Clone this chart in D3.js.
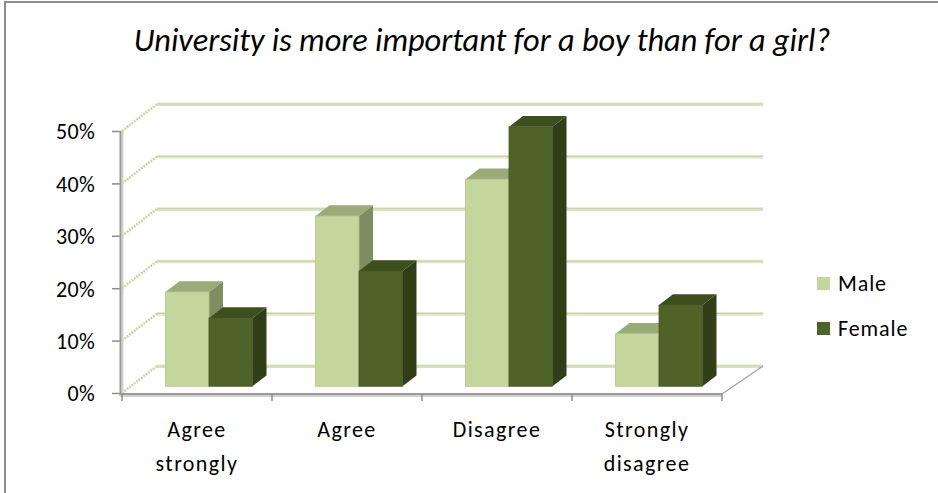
<!DOCTYPE html>
<html>
<head>
<meta charset="utf-8">
<script src="https://cdn.jsdelivr.net/npm/d3@7"></script>
<style>
  html, body { margin: 0; padding: 0; background: #ffffff; }
  svg { display: block; }
  text { font-family: Carlito, Calibri, Lato, sans-serif; fill: #000; }
</style>
</head>
<body>
<svg id="chart" width="938" height="493"></svg>
<script>
// Survey answers, share of respondents by gender
const categories = ["Agree strongly", "Agree", "Disagree", "Strongly disagree"];
const categoryLines = [["Agree", "strongly"], ["Agree"], ["Disagree"], ["Strongly", "disagree"]];
const seriesNames = ["Male", "Female"];
const maleValues = [0.18, 0.325, 0.395, 0.10];
const femaleValues = [0.13, 0.22, 0.495, 0.155];
const yTicks = [0, 0.1, 0.2, 0.3, 0.4, 0.5];
const chartTitle = "University is more important for a boy than for a girl?";

const seriesValues = { Male: maleValues, Female: femaleValues };
const colors = {
  Male:   { front: "#c3d69b", top: "#9aaa79", side: "#7f8e62", edge: "#b2c58b" },
  Female: { front: "#4f6228", top: "#3e4e1f", side: "#313e17", edge: "#465823" }
};

const svg = d3.select("#chart");

// chart frame
svg.append("path")
  .attr("d", "M5,493 L5,2 L938,2")
  .attr("fill", "none").attr("stroke", "#8c8c8c").attr("stroke-width", 2);

// title
svg.append("text")
  .attr("x", 482).attr("y", 51)
  .attr("text-anchor", "middle")
  .attr("font-style", "italic")
  .attr("font-size", 26)
  .text(chartTitle)
  .each(function () {
    const w = this.getComputedTextLength();
    d3.select(this).attr("font-size", 26 * 697 / w);
  });

// plot geometry: front plane scales plus a receding depth offset
const x = d3.scaleBand().domain(categories).range([122, 722]);
const y = d3.scaleLinear().domain([0, 0.5]).range([393, 131]);
const depthDx = xf => 35 + 6 * (xf - 122) / 600;
const depthDy = -27;
const proj = (xf, v, d) => [xf + d * depthDx(xf), y(v) + d * depthDy];

const g = svg.append("g");

// back wall gridlines
yTicks.forEach(t => {
  const a = proj(122, t, 1), b = proj(722, t, 1);
  g.append("line").attr("x1", a[0]).attr("y1", a[1] + 1.5).attr("x2", b[0]).attr("y2", b[1] + 1.5)
    .attr("stroke", "#d4d4d4").attr("stroke-width", 1);
  g.append("line").attr("x1", a[0]).attr("y1", a[1]).attr("x2", b[0]).attr("y2", b[1])
    .attr("stroke", "#dfeacb").attr("stroke-width", 3);
  g.append("line").attr("x1", a[0]).attr("y1", a[1]).attr("x2", b[0]).attr("y2", b[1])
    .attr("stroke", "#c2d49c").attr("stroke-width", 1);
});

// side wall gridlines
yTicks.forEach(t => {
  const a = proj(122, t, 0), b = proj(122, t, 1);
  g.append("line").attr("x1", a[0]).attr("y1", a[1]).attr("x2", b[0]).attr("y2", b[1])
    .attr("stroke", "#c8d9a4").attr("stroke-width", 2.5).attr("stroke-dasharray", "2,1");
});

// floor right edge
{
  const a = proj(722, 0, 0), b = proj(722, 0, 1);
  g.append("line").attr("x1", a[0]).attr("y1", a[1] + 1).attr("x2", b[0]).attr("y2", b[1])
    .attr("stroke", "#a6a6a6").attr("stroke-width", 1.5);
}

// bars: front face at a shallow depth, with top and side faces
const barFrontDepth = 0.25;
const barDepth = 0.4;
const groupWidth = 87;
const inner = d3.scaleBand().domain(seriesNames).range([0, groupWidth]);
const barShiftX = 12;

categories.forEach((c, i) => {
  const left = x(c) + x.bandwidth() / 2 - groupWidth / 2 + barShiftX;
  seriesNames.forEach(s => {
    const v = seriesValues[s][i];
    const x0 = left + inner(s), x1 = x0 + inner.bandwidth();
    const yb = y(0) + barFrontDepth * depthDy;
    const yt = y(v) + barFrontDepth * depthDy;
    const ddx = barDepth * 35, ddy = barDepth * depthDy;
    const col = colors[s];
    // side face
    g.append("path")
      .attr("d", `M${x1},${yt} L${x1 + ddx},${yt + ddy} L${x1 + ddx},${yb + ddy} L${x1},${yb} Z`)
      .attr("fill", col.side);
    // top face
    g.append("path")
      .attr("d", `M${x0},${yt} L${x0 + ddx},${yt + ddy} L${x1 + ddx},${yt + ddy} L${x1},${yt} Z`)
      .attr("fill", col.top);
    // front face
    g.append("rect")
      .attr("x", x0).attr("y", yt).attr("width", x1 - x0).attr("height", yb - yt)
      .attr("fill", col.front).attr("stroke", col.edge).attr("stroke-width", 0.8);
  });
});

// value axis
const yAxis = d3.axisLeft(y).tickValues(yTicks).tickFormat(d3.format(".0%"))
  .tickSize(9).tickPadding(17);
const yG = svg.append("g").attr("transform", "translate(121,0)").call(yAxis);
yG.select(".domain").remove();
yG.selectAll(".tick line").attr("stroke", "#8c8c8c").attr("stroke-width", 1.5);
yG.attr("font-size", 22).attr("font-family", "Carlito, Calibri, Lato, sans-serif");
yG.selectAll(".tick text")
  .attr("font-size", 22).attr("letter-spacing", 0.3)
  .attr("dy", "0.36em")
  .attr("fill", "#000");
svg.append("line").attr("x1", 122.5).attr("y1", 131).attr("x2", 122.5).attr("y2", 395)
  .attr("stroke", "#d2d2d2").attr("stroke-width", 2);
svg.append("line").attr("x1", 120.5).attr("y1", 131).attr("x2", 120.5).attr("y2", 396)
  .attr("stroke", "#9a9a9a").attr("stroke-width", 2);

// category axis
svg.append("line").attr("x1", 120).attr("y1", 396).attr("x2", 722).attr("y2", 396)
  .attr("stroke", "#d2d2d2").attr("stroke-width", 2);
svg.append("line").attr("x1", 120).attr("y1", 394).attr("x2", 722).attr("y2", 394)
  .attr("stroke", "#9a9a9a").attr("stroke-width", 2);
const edges = categories.map(c => x(c)).concat([x(categories[categories.length - 1]) + x.bandwidth()]);
edges.forEach(e => {
  svg.append("line").attr("x1", e).attr("y1", 394).attr("x2", e).attr("y2", 401)
    .attr("stroke", "#8c8c8c").attr("stroke-width", 1.5);
});
categories.forEach((c, i) => {
  const t = svg.append("text")
    .attr("x", x(c) + x.bandwidth() / 2).attr("y", 437)
    .attr("text-anchor", "middle").attr("font-size", 22).attr("letter-spacing", 1.4);
  categoryLines[i].forEach((line, k) => {
    t.append("tspan").attr("x", x(c) + x.bandwidth() / 2).attr("dy", k === 0 ? 0 : 34).text(line);
  });
});

// legend
const legend = svg.append("g").attr("transform", "translate(817,277)");
seriesNames.forEach((s, k) => {
  const row = legend.append("g").attr("transform", `translate(0,${k * 45})`);
  row.append("rect").attr("width", 13).attr("height", 13).attr("fill", colors[s].front);
  row.append("text").attr("x", 21).attr("y", 14).attr("font-size", 22).attr("letter-spacing", 0.9).text(s);
});
</script>
</body>
</html>
